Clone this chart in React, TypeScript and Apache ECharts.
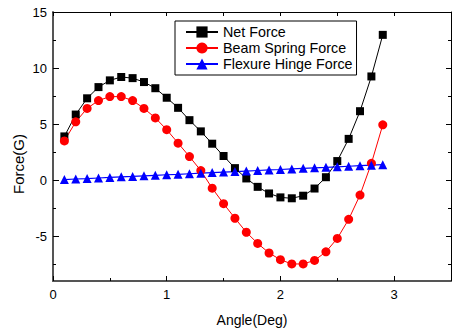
import React, { useEffect, useRef } from "react";
import * as echarts from "echarts";

const angles = [0.1, 0.2, 0.3, 0.4, 0.5, 0.6, 0.7, 0.8, 0.9, 1.0, 1.1, 1.2, 1.3, 1.4, 1.5, 1.6, 1.7, 1.8, 1.9, 2.0, 2.1, 2.2, 2.3, 2.4, 2.5, 2.6, 2.7, 2.8, 2.9];
const netForce = [3.9, 5.85, 7.3, 8.3, 8.9, 9.2, 9.1, 8.75, 8.2, 7.35, 6.45, 5.35, 4.35, 3.25, 2.15, 1.07, 0.15, -0.6, -1.19, -1.54, -1.62, -1.39, -0.75, 0.26, 1.7, 3.68, 6.15, 9.25, 12.96];
const beamSpringForce = [3.5, 5.2, 6.4, 7.1, 7.45, 7.45, 7.1, 6.4, 5.55, 4.5, 3.3, 2.1, 0.85, -0.72, -2.1, -3.4, -4.65, -5.65, -6.5, -7.1, -7.48, -7.48, -7.16, -6.4, -5.2, -3.5, -1.33, 1.5, 4.93];
const flexureHingeForce = [0.05, 0.1, 0.14, 0.19, 0.24, 0.29, 0.33, 0.38, 0.43, 0.48, 0.52, 0.57, 0.62, 0.67, 0.72, 0.76, 0.81, 0.86, 0.91, 0.95, 1.0, 1.05, 1.1, 1.14, 1.19, 1.24, 1.29, 1.33, 1.38];

const xMajor = [0, 1, 2, 3];
const xMinor = [0.5, 1.5, 2.5, 3.5];
const yMajor = [-5, 0, 5, 10, 15];
const yMinor = [-7.5, -2.5, 2.5, 7.5, 12.5];

const FONT = "Liberation Sans, Arial, sans-serif";

export default function App() {
  const ref = useRef<HTMLDivElement>(null);
  useEffect(() => {
    if (!ref.current) return;
    const chart = echarts.init(ref.current, undefined, { renderer: "svg" });
    const xBase = { type: "value", min: 0, max: 3.5, splitLine: { show: false } };
    const yBase = { type: "value", min: -9, max: 15, splitLine: { show: false } };
    const pair = (a: number[], b: number[]) => a.map((v, i) => [v, b[i]]);
    chart.setOption({
      animation: false,
      backgroundColor: "#fff",
      grid: { left: 53, right: 1, top: 12, bottom: 45 },
      legend: {
        orient: "vertical",
        left: 175,
        top: 21,
        padding: [4, 4, 4, 10],
        itemGap: 2,
        itemWidth: 32,
        itemHeight: 14,
        borderColor: "#000",
        borderWidth: 1,
        textStyle: { color: "#000", fontSize: 14.3, fontFamily: FONT },
        data: ["Net Force", "Beam Spring Force", "Flexure Hinge Force"],
      },
      xAxis: [
        {
          ...xBase,
          position: "bottom",
          name: "Angle(Deg)",
          nameLocation: "middle",
          nameGap: 32,
          nameTextStyle: { color: "#000", fontSize: 14, fontFamily: FONT },
          axisLine: { show: true, onZero: false, lineStyle: { color: "#555", width: 2 } },
          axisTick: { show: true, inside: true, length: 5, customValues: xMajor, lineStyle: { color: "#000" } },
          axisLabel: { show: true, margin: 7, customValues: xMajor, color: "#000", fontSize: 13, fontFamily: FONT },
        },
        {
          ...xBase,
          position: "bottom",
          axisLine: { show: false, onZero: false },
          axisTick: { show: true, inside: true, length: 3, customValues: xMinor, lineStyle: { color: "#000" } },
          axisLabel: { show: false },
        },
        {
          ...xBase,
          position: "top",
          axisLine: { show: true, onZero: false, lineStyle: { color: "#000", width: 1 } },
          axisTick: { show: true, inside: true, length: 4, customValues: [0, 0.5, 1, 1.5, 2, 2.5, 3, 3.5], lineStyle: { color: "#000" } },
          axisLabel: { show: false },
        },
      ],
      yAxis: [
        {
          ...yBase,
          position: "left",
          axisLine: { show: true, onZero: false, lineStyle: { color: "#555", width: 2 } },
          axisTick: { show: true, inside: true, length: 6, customValues: yMajor, lineStyle: { color: "#000" } },
          axisLabel: { show: true, margin: 6, customValues: yMajor, color: "#000", fontSize: 13, fontFamily: FONT },
        },
        {
          ...yBase,
          position: "left",
          axisLine: { show: false, onZero: false },
          axisTick: { show: true, inside: true, length: 3, customValues: yMinor, lineStyle: { color: "#000" } },
          axisLabel: { show: false },
        },
        {
          ...yBase,
          position: "right",
          axisLine: { show: true, onZero: false, lineStyle: { color: "#000", width: 1 } },
          axisTick: { show: true, inside: true, length: 5, customValues: yMajor, lineStyle: { color: "#000" } },
          axisLabel: { show: false },
        },
        {
          ...yBase,
          position: "right",
          axisLine: { show: false, onZero: false },
          axisTick: { show: true, inside: true, length: 3, customValues: yMinor, lineStyle: { color: "#000" } },
          axisLabel: { show: false },
        },
      ],
      graphic: [
        {
          type: "text",
          x: 18,
          y: 164,
          rotation: Math.PI / 2,
          style: {
            text: "Force(G)",
            fill: "#000",
            fontSize: 15,
            fontFamily: FONT,
            align: "center",
            verticalAlign: "middle",
          },
        },
      ],
      series: [
        {
          name: "Net Force",
          type: "line",
          data: pair(angles, netForce),
          symbol: "rect",
          symbolSize: 8,
          itemStyle: { color: "#000" },
          lineStyle: { color: "#000", width: 1 },
        },
        {
          name: "Beam Spring Force",
          type: "line",
          data: pair(angles, beamSpringForce),
          symbol: "circle",
          symbolSize: 9,
          itemStyle: { color: "#ff0000" },
          lineStyle: { color: "#ff0000", width: 1 },
        },
        {
          name: "Flexure Hinge Force",
          type: "line",
          data: pair(angles, flexureHingeForce),
          symbol: "triangle",
          symbolSize: 9,
          itemStyle: { color: "#0000ff" },
          lineStyle: { color: "#0000ff", width: 1.2 },
        },
      ],
    });
    return () => chart.dispose();
  }, []);
  return <div ref={ref} style={{ width: 452, height: 332, position: "absolute", left: 0, top: 0 }} />;
}
